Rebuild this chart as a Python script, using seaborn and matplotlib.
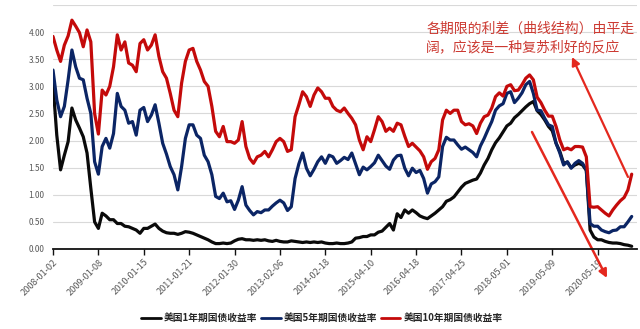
import numpy as np
import pandas as pd
import matplotlib
matplotlib.use("Agg")
import matplotlib.pyplot as plt
from matplotlib.lines import Line2D
import seaborn as sns

# Category-axis tick labels (one label every 12 samples)
tick_labels = ["2008-01-02", "2009-01-08", "2010-01-15", "2011-01-21", "2012-01-30",
               "2013-02-06", "2014-02-18", "2015-04-10", "2016-04-18", "2017-04-25",
               "2018-05-01", "2019-05-09", "2020-05-19"]
samples_per_tick = 12

series_names = ["美国1年期国债收益率", "美国5年期国债收益率", "美国10年期国债收益率"]
series_colors = ["#0a0a0a", "#0b2565", "#c40a0a"]

# US Treasury yields (%), sampled evenly along the trading-day axis
yield_1y = [3.05, 2.10, 1.46, 1.73, 1.98, 2.60, 2.38, 2.23, 2.07, 1.77,
            1.12, 0.50, 0.38, 0.66, 0.61, 0.54, 0.54, 0.47, 0.47, 0.42,
            0.41, 0.38, 0.35, 0.29, 0.38, 0.38, 0.42, 0.46, 0.38, 0.33,
            0.30, 0.29, 0.29, 0.27, 0.29, 0.32, 0.31, 0.29, 0.26, 0.23,
            0.20, 0.17, 0.13, 0.10, 0.10, 0.11, 0.10, 0.11, 0.15, 0.18,
            0.19, 0.17, 0.17, 0.16, 0.17, 0.16, 0.17, 0.15, 0.14, 0.16,
            0.14, 0.13, 0.13, 0.15, 0.14, 0.13, 0.12, 0.13, 0.12, 0.13,
            0.12, 0.13, 0.11, 0.10, 0.10, 0.11, 0.10, 0.10, 0.11, 0.13,
            0.20, 0.21, 0.23, 0.23, 0.26, 0.26, 0.31, 0.33, 0.40, 0.47,
            0.35, 0.65, 0.58, 0.72, 0.66, 0.72, 0.67, 0.61, 0.58, 0.56,
            0.61, 0.66, 0.72, 0.78, 0.88, 0.91, 0.96, 1.05, 1.14, 1.21,
            1.24, 1.27, 1.29, 1.40, 1.55, 1.67, 1.83, 1.96, 2.05, 2.16,
            2.27, 2.32, 2.42, 2.48, 2.55, 2.62, 2.68, 2.72, 2.55, 2.48,
            2.38, 2.26, 2.18, 1.95, 1.80, 1.58, 1.60, 1.50, 1.55, 1.58,
            1.55, 1.45, 0.35, 0.22, 0.17, 0.17, 0.14, 0.12, 0.11, 0.11,
            0.10, 0.08, 0.07, 0.05]

yield_5y = [3.30, 2.75, 2.44, 2.63, 3.12, 3.67, 3.36, 3.15, 3.12, 2.78,
            2.50, 1.61, 1.38, 1.89, 2.04, 1.86, 2.13, 2.87, 2.63, 2.56,
            2.32, 2.35, 2.10, 2.56, 2.61, 2.35, 2.47, 2.66, 2.32, 1.95,
            1.75, 1.52, 1.37, 1.09, 1.52, 2.04, 2.29, 2.29, 2.10, 2.04,
            1.73, 1.61, 1.37, 0.97, 0.93, 1.03, 0.87, 0.89, 0.73, 0.90,
            1.15, 0.81, 0.71, 0.63, 0.69, 0.67, 0.72, 0.72, 0.79, 0.85,
            0.90, 0.85, 0.71, 0.78, 1.30, 1.57, 1.77, 1.49, 1.35, 1.47,
            1.61, 1.70, 1.58, 1.73, 1.70, 1.58, 1.63, 1.69, 1.65, 1.77,
            1.57, 1.37, 1.51, 1.46, 1.52, 1.59, 1.73, 1.63, 1.53, 1.47,
            1.64, 1.72, 1.73, 1.49, 1.35, 1.49, 1.41, 1.45, 1.30, 1.03,
            1.20, 1.24, 1.33, 1.89, 2.06, 2.01, 2.01, 1.92, 1.84, 1.88,
            1.83, 1.78, 1.70, 1.90, 2.04, 2.20, 2.35, 2.56, 2.64, 2.68,
            2.87, 2.90, 2.70, 2.78, 2.88, 3.03, 3.09, 2.87, 2.56, 2.55,
            2.41, 2.29, 2.26, 1.95, 1.77, 1.55, 1.61, 1.49, 1.58, 1.63,
            1.58, 1.46, 0.47, 0.42, 0.42, 0.35, 0.32, 0.30, 0.34, 0.35,
            0.41, 0.41, 0.50, 0.60]

yield_10y = [3.92, 3.67, 3.46, 3.76, 3.93, 4.22, 4.11, 3.99, 3.73, 4.04,
             3.82, 2.50, 2.12, 2.93, 2.84, 3.00, 3.36, 3.95, 3.67, 3.82,
             3.43, 3.39, 3.27, 3.79, 3.86, 3.67, 3.76, 3.95, 3.55, 3.27,
             3.15, 2.87, 2.56, 2.44, 3.06, 3.46, 3.67, 3.70, 3.46, 3.30,
             3.09, 3.00, 2.63, 2.17, 2.07, 2.26, 1.98, 1.98, 1.95, 2.01,
             2.35, 1.89, 1.67, 1.58, 1.70, 1.73, 1.80, 1.70, 1.83, 1.98,
             2.04, 1.98, 1.80, 1.83, 2.44, 2.66, 2.90, 2.81, 2.63, 2.84,
             2.97, 2.90, 2.78, 2.78, 2.63, 2.56, 2.53, 2.60, 2.50, 2.41,
             2.29, 2.01, 1.83, 2.07, 1.98, 2.20, 2.44, 2.35, 2.17, 2.23,
             2.17, 2.32, 2.29, 2.08, 1.89, 1.95, 1.88, 1.81, 1.70, 1.47,
             1.61, 1.67, 1.83, 2.38, 2.56, 2.50, 2.56, 2.56, 2.35, 2.29,
             2.31, 2.27, 2.13, 2.32, 2.44, 2.47, 2.60, 2.81, 2.88, 2.82,
             3.00, 3.03, 2.92, 2.93, 3.03, 3.15, 3.21, 3.12, 2.80, 2.70,
             2.56, 2.45, 2.45, 2.26, 2.01, 1.83, 1.86, 1.83, 1.89, 1.89,
             1.88, 1.70, 0.78, 0.77, 0.78, 0.72, 0.66, 0.61, 0.72, 0.81,
             0.89, 0.95, 1.09, 1.38]

note_lines = ["各期限的利差（曲线结构）由平走", "阔，应该是一种复苏利好的反应"]

# ---------------------------------------------------------------------------
sns.set_theme(style="white")
plt.rcParams["font.family"] = ["Noto Sans CJK SC", "DejaVu Sans"]

n = len(yield_1y)
pos = np.arange(n)
df = pd.DataFrame({
    "pos": np.tile(pos, 3),
    "rate": np.concatenate([yield_1y, yield_5y, yield_10y]),
    "series": np.repeat(series_names, n),
})

fig = plt.figure(figsize=(6.4, 3.29), dpi=100)
ax = fig.add_axes([53 / 640, 1 - 249 / 329, (637 - 53) / 640, (249 - 5) / 329])

sns.lineplot(data=df, x="pos", y="rate", hue="series", hue_order=series_names,
             palette=dict(zip(series_names, series_colors)), linewidth=2.3,
             legend=False, ax=ax)

ax.set_xlim(0, 154.4)
ax.set_ylim(0, 4.5)
yt = np.arange(0, 4.51, 0.5)
ax.set_yticks(yt)
ax.set_yticklabels([f"{v:.2f}" if v < 4.4 else "" for v in yt])
xt = np.arange(len(tick_labels)) * samples_per_tick
ax.set_xticks(xt)
ax.set_xticklabels(tick_labels, rotation=45, ha="right", rotation_mode="anchor")

ax.set_xlabel("")
ax.set_ylabel("")
ax.grid(axis="y", color="#d9d9d9", linewidth=0.8)
ax.grid(axis="x", visible=False)
for side in ("left", "top", "right"):
    ax.spines[side].set_visible(False)
ax.spines["bottom"].set_color("#111111")
ax.spines["bottom"].set_linewidth(1.3)
ax.spines["bottom"].set_zorder(5)

ax.tick_params(axis="x", direction="out", length=4, width=1, color="#111111",
               labelsize=6.6, labelcolor="#595959", pad=2, bottom=True)
ax.tick_params(axis="y", length=0, labelsize=6, labelcolor="#595959", pad=6)

handles = [Line2D([], [], color=c, linewidth=2.0) for c in series_colors]
fig.legend(handles, series_names, loc="center", bbox_to_anchor=(0.503, 0.033),
           ncol=3, frameon=False, handlelength=2.0,
           handletextpad=0.3, columnspacing=0.4,
           prop={"weight": "bold", "size": 7})

note_color = "#cc3a32"
fig.text(427 / 640, 1 - 29 / 329, note_lines[0], color=note_color,
         fontsize=10, va="center", ha="left")
fig.text(426 / 640, 1 - 47.5 / 329, note_lines[1], color=note_color,
         fontsize=10, va="center", ha="left")

arrow_color = "#e4281e"
ax.annotate("", xy=(607 / 640, 1 - 278 / 329), xycoords="figure fraction",
            xytext=(532 / 640, 1 - 132 / 329), textcoords="figure fraction",
            arrowprops=dict(arrowstyle="-|>", color=arrow_color, lw=1.8,
                            mutation_scale=12, shrinkA=0, shrinkB=0),
            annotation_clip=False)
ax.annotate("", xy=(572 / 640, 1 - 57 / 329), xycoords="figure fraction",
            xytext=(628 / 640, 1 - 177 / 329), textcoords="figure fraction",
            arrowprops=dict(arrowstyle="-|>", color=arrow_color, lw=1.6,
                            mutation_scale=12, shrinkA=0, shrinkB=0),
            annotation_clip=False)

fig.savefig("out.png", dpi=100)
